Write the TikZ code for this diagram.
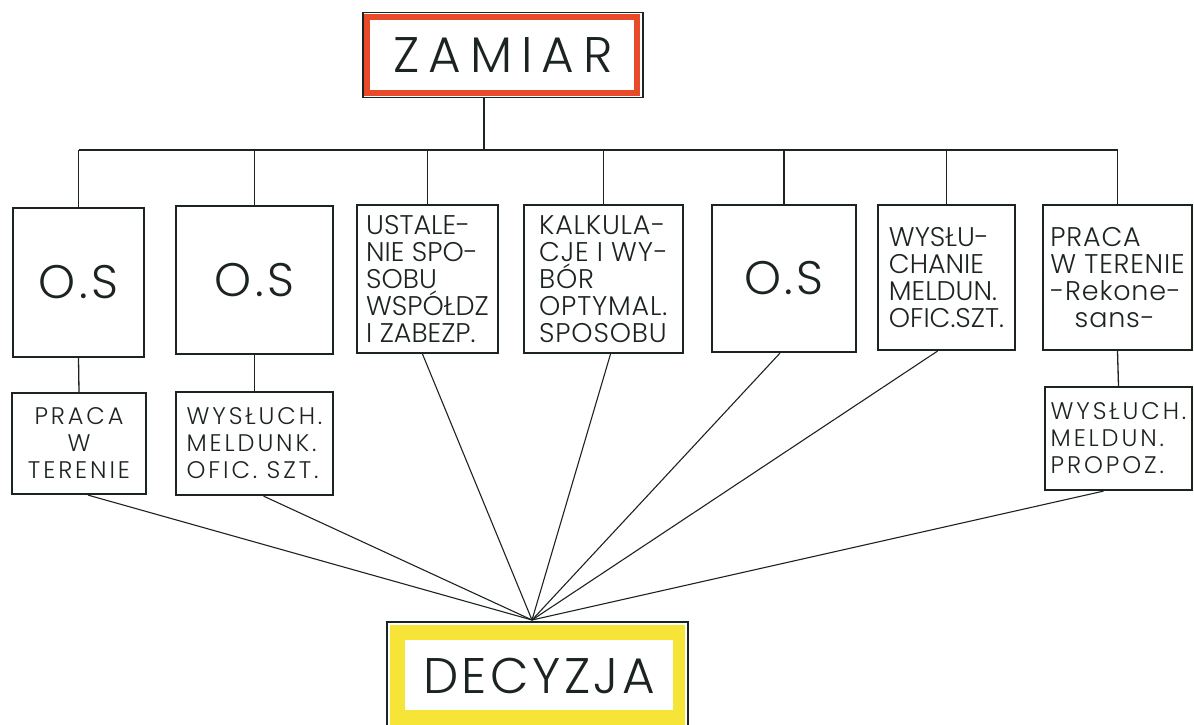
\documentclass[tikz,border=0pt]{standalone}
\usepackage{fontspec}
\setmainfont{Poppins}[UprightFont=* Light]
\newfontfamily\handwide{Poppins}[UprightFont=* Light, LetterSpace=18]
\newfontfamily\handmid{Poppins}[UprightFont=* Light, LetterSpace=7]
\newfontfamily\handsm{Poppins}[UprightFont=* Light, LetterSpace=3]
\newfontfamily\handlow{Poppins}[UprightFont=* Light, LetterSpace=12]
\definecolor{zred}{RGB}{232,74,42}
\definecolor{dyel}{RGB}{246,228,55}
\definecolor{ink}{RGB}{28,36,32}
\begin{document}
\begin{tikzpicture}[x=1pt,y=-1pt,
  box/.style={draw=ink, line width=2.2pt, inner sep=0pt, text=ink},
  wire/.style={draw=ink, line width=1.3pt},
  ray/.style={draw=ink, line width=1.1pt},
  toptxt/.style={font=\fontsize{27}{27}\selectfont, align=left},
  toptxtb/.style={font=\handsm\fontsize{27}{27}\selectfont, align=left},
  bottxt/.style={font=\handlow\fontsize{24}{27}\selectfont},
  ostxt/.style={font=\handmid\fontsize{47}{47}\selectfont}
]
\useasboundingbox (0,0) rectangle (1194,725);
\fill[white] (0,0) rectangle (1194,725);

% ZAMIAR
\draw[zred, line width=6pt] (367,17) rectangle (637,93);
\node[box, line width=1.5pt, minimum width=280pt, minimum height=85pt,
      font=\handwide\fontsize{50}{50}\selectfont] (zam) at (503,55) {ZAMIAR};

% top row
\node[box, minimum width=131pt, minimum height=149pt, ostxt] (os1) at (78.5,282.5) {O.S};
\node[box, minimum width=157pt, minimum height=148pt, ostxt] (os2) at (254.5,280) {O.S};
\node[box, minimum width=141pt, minimum height=148pt, toptxt] (ust) at (427.5,279)
  {USTALE-\\NIE SPO-\\SOBU\\WSPÓŁDZ\\I ZABEZP.};
\node[box, minimum width=159pt, minimum height=148pt, toptxtb] (kal) at (603.5,279)
  {KALKULA-\\CJE I WY-\\BÓR\\OPTYMAL.\\SPOSOBU};
\node[box, minimum width=144pt, minimum height=147pt, ostxt] (os3) at (784,278.5) {O.S};
\node[box, minimum width=137pt, minimum height=145pt, toptxt] (wys) at (946.5,277.5)
  {WYSŁU-\\CHANIE\\MELDUN.\\OFIC.SZT.};
\node[box, minimum width=149pt, minimum height=145pt, toptxtb] (pra) at (1117.5,277.5)
  {PRACA\\W TERENIE\\-Rekone-\\\hspace*{0.9em}sans-};

% bottom row
\node[box, minimum width=134pt, minimum height=101pt, bottxt, align=center] (ptb) at (79,443.5)
  {PRACA\\W\\TERENIE};
\node[box, minimum width=157pt, minimum height=103pt, bottxt, align=left] (wmo) at (254.5,443.5)
  {WYSŁUCH.\\MELDUNK.\\OFIC. SZT.};
\node[box, minimum width=147pt, minimum height=103pt, bottxt, align=left] (wmp) at (1118.5,438.5)
  {WYSŁUCH.\\MELDUN.\\PROPOZ.};

% DECYZJA
\fill[dyel] (390,625) rectangle (685,725);
\fill[white] (405,640) rectangle (673,710);
\draw[ink, line width=1.5pt] (387,725) -- (387,622) -- (688,622) -- (688,725);
\node[text=ink, font=\handmid\fontsize{50}{50}\selectfont] (dec) at (539,676) {DECYZJA};
\coordinate (apex) at (532,620);

% tree connectors
\coordinate (bus) at (0,150);
\draw[wire] ([xshift=-19pt]zam.south) -- ([xshift=-19pt]zam.south |- bus);
\draw[wire] (os1.north |- bus) -- (pra.north |- bus);
\foreach \n in {os1,os2,ust,kal,os3,wys,pra}
  \draw[wire] (\n.north |- bus) -- (\n.north);
\draw[wire] (os1.south) -- (ptb.north);
\draw[wire] (os2.south) -- (wmo.north);
\draw[wire] (pra.south) -- (wmp.north);

% fan to DECYZJA
\foreach \n/\s in {ptb/9,wmo/9,ust/-5,kal/7,os3/-4,wys/-9,wmp/-15}
  \draw[ray] ([xshift=\s pt]\n.south) -- (apex);
\end{tikzpicture}
\end{document}
